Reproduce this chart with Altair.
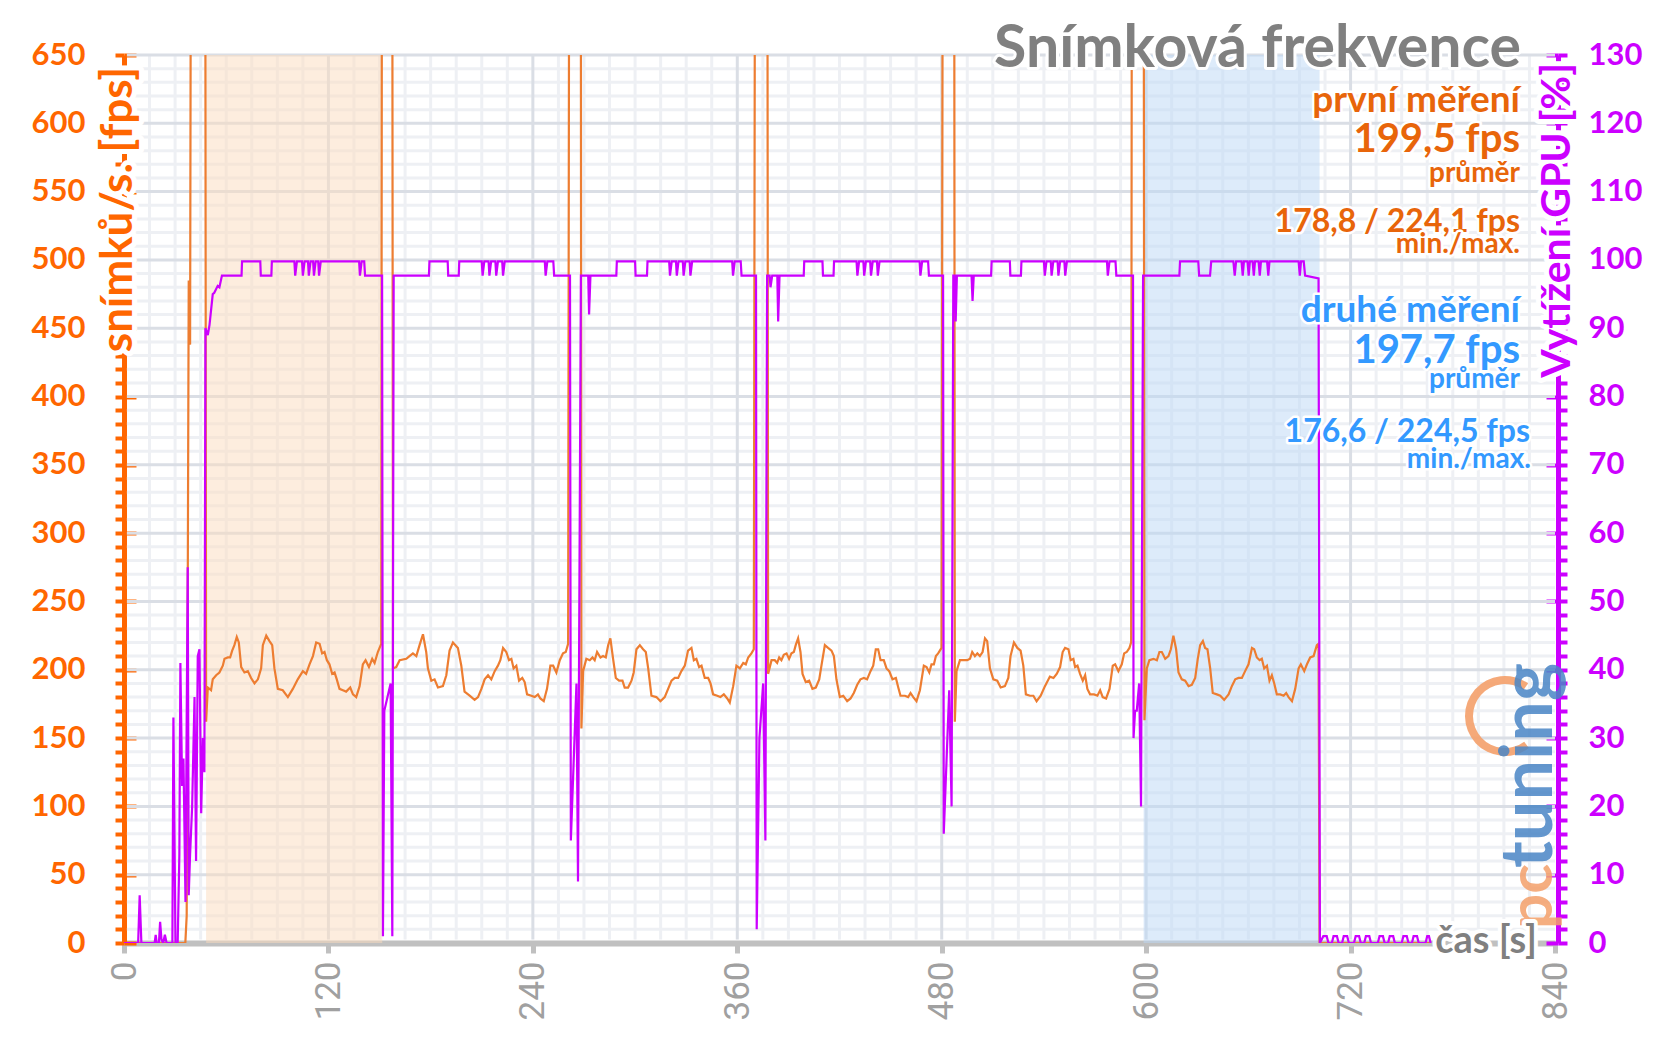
import altair as alt
import pandas as pd

# ---------------- data ----------------
fps_time = [0, 36.0, 36.8, 38.0, 38.8, 39.6, 47.5,
    48.2, 49.2, 51.1, 52.1, 54.1, 56.0, 58.0, 59.0, 60.9, 62.3, 63.5, 64.8, 66.2, 67.4, 68.8, 70.7, 72.7, 74.6,
    76.6, 78.6, 80.5, 81.5, 83.5, 85.4, 87.0, 88.3, 90.3, 93.2, 96.2, 99.1, 102.0, 105.0, 106.9, 108.9, 110.9,
    112.8, 114.8, 116.3, 117.7, 119.1, 120.6, 122.2, 123.6, 124.9, 126.5, 128.5, 130.4, 132.8, 134.4, 136.3,
    138.3, 140.2, 141.8, 143.8, 145.7, 147.1, 149.0, 151.0, 151.6, 157.3,
    157.9, 159.8, 161.8, 165.7, 167.6, 169.6, 171.6, 173.5, 175.5, 177.4, 178.4, 180.4, 182.3, 184.3, 187.2,
    189.2, 191.1, 193.1, 196.0, 198.0, 199.9, 202.9, 205.8, 207.8, 209.8, 211.7, 213.7, 215.6, 217.6, 219.5,
    220.9, 222.5, 224.4, 226.0, 227.4, 228.7, 230.3, 231.9, 233.8, 235.2, 236.6, 239.1, 241.1, 243.0, 244.4,
    246.4, 248.3, 250.3, 251.9, 253.8, 255.8, 257.7, 259.3, 260.7, 261.6, 268.0,
    268.5, 269.5, 271.4, 273.4, 275.0, 276.3, 277.7, 279.7, 281.2, 282.8, 284.2, 285.5, 287.1, 288.7, 290.6,
    292.6, 293.9, 295.9, 297.9, 299.2, 300.8, 302.8, 304.7, 306.3, 307.7, 309.6, 312.5, 314.9, 317.4, 319.4,
    321.4, 323.3, 325.3, 327.2, 329.2, 331.1, 333.1, 334.5, 336.0, 337.6, 339.0, 340.9, 342.9, 344.3, 345.8,
    348.2, 350.1, 352.1, 354.1, 355.6, 357.6, 359.5, 361.5, 363.5, 365.0, 366.4, 368.3, 369.7, 370.7, 377.5,
    378.1, 380.1, 382.0, 383.4, 384.6, 385.9, 387.3, 388.9, 390.4, 391.8, 393.2, 394.3, 395.7, 397.1, 398.3,
    400.2, 402.2, 404.1, 406.1, 408.1, 409.4, 411.4, 413.3, 415.3, 416.7, 418.2, 420.2, 422.2, 424.5, 426.5,
    428.4, 430.4, 432.3, 434.3, 436.2, 438.2, 439.8, 441.3, 442.7, 444.1, 446.0, 447.6, 449.2, 451.1, 453.1,
    454.5, 455.8, 458.4, 460.3, 461.7, 463.3, 465.2, 467.2, 469.5, 471.1, 472.7, 474.0, 475.4, 476.6, 477.9,
    479.9, 480.9, 487.2,
    487.7, 488.7, 490.7, 493.0, 495.0, 496.6, 497.9, 499.5, 500.9, 502.4, 504.0, 505.4, 506.7, 508.3, 510.3,
    512.6, 514.6, 517.1, 519.1, 520.4, 522.4, 524.4, 526.3, 527.9, 529.4, 531.8, 533.8, 535.7, 538.1, 540.6,
    543.5, 545.6, 547.5, 549.5, 551.0, 552.4, 554.4, 555.7, 557.3, 558.3, 559.7, 561.2, 562.8, 564.2, 565.5,
    567.1, 569.4, 571.4, 573.0, 574.5, 576.5, 578.5, 580.4, 581.8, 583.7, 585.7, 587.1, 588.6, 590.2, 591.2,
    591.8, 598.4,
    599.0, 600.4, 601.9, 604.3, 606.3, 607.8, 609.2, 611.2, 613.1, 614.5, 616.0, 617.6, 619.0, 620.9, 622.9,
    624.9, 626.8, 628.8, 630.3, 631.7, 633.3, 634.6, 636.0, 637.6, 639.1, 641.5, 643.5, 645.8, 648.4, 650.3,
    652.3, 654.2, 656.2, 658.1, 660.1, 662.1, 663.4, 665.0, 666.6, 667.9, 669.3, 670.9, 672.4, 673.8, 675.2,
    676.7, 678.7, 680.7, 682.2, 683.6, 685.6, 687.5, 689.5, 690.8, 692.8, 694.4, 696.3, 698.3, 700.2, 701.2,
    701.8, 767.0]

fps_value = [0, 0, 20, 485, 438, 1000, 1000,
    162, 187, 185, 193, 196, 198, 203, 208, 209, 209, 214, 218, 224, 220, 202, 198, 199, 194,
    190, 193, 201, 218, 225, 221, 218, 201, 186, 185, 180, 186, 193, 199, 197, 204, 210,
    220, 219, 212, 213, 207, 204, 197, 198, 193, 186, 185, 184, 187, 182, 180,
    188, 204, 207, 202, 208, 205, 213, 219, 1000, 1000,
    201, 202, 207, 208, 210, 212, 210, 218, 226, 213, 201, 192, 193, 187, 188,
    196, 214, 220, 216, 203, 184, 181, 178, 180, 186, 193, 196, 193, 199, 203,
    207, 216, 213, 207, 208, 201, 203, 192, 194, 191, 182, 181, 180, 182, 179,
    177, 186, 203, 203, 198, 207, 212, 213, 219, 1000, 1000,
    157, 199, 208, 207, 209, 207, 213, 209, 210, 209, 218, 223, 208, 194, 192,
    192, 187, 187, 192, 198, 215, 218, 215, 213, 201, 181, 180, 177, 180, 186,
    192, 194, 194, 199, 203, 214, 216, 207, 208, 202, 203, 194, 194, 190, 182,
    181, 180, 182, 179, 176, 188, 203, 201, 205, 204, 209, 212, 215, 1000, 1000,
    197, 207, 207, 205, 209, 207, 211, 212, 208, 212, 213, 218, 223, 213, 197,
    191, 192, 186, 187, 193, 203, 218, 216, 214, 210, 193, 180, 181, 177, 179,
    183, 189, 193, 194, 193, 199, 203, 215, 215, 207, 207, 201, 199, 193, 194,
    187, 181, 181, 180, 183, 180, 177, 185, 203, 202, 198, 204, 204, 210, 212,
    216, 1000, 1000,
    162, 199, 207, 207, 207, 208, 213, 210, 212, 210, 213, 223, 221, 201, 193,
    192, 187, 188, 194, 210, 220, 216, 214, 203, 182, 181, 181, 177, 181, 188,
    195, 194, 197, 202, 213, 216, 215, 207, 208, 202, 203, 197, 192, 196, 186,
    182, 182, 181, 185, 180, 179, 186, 203, 204, 199, 204, 212, 213, 216, 220,
    1000, 1000,
    163, 201, 207, 208, 207, 213, 213, 208, 210, 215, 225, 215, 198, 193, 192,
    188, 189, 194, 208, 218, 221, 216, 215, 201, 183, 182, 181, 178, 182, 188,
    193, 194, 194, 199, 204, 216, 215, 209, 207, 208, 201, 203, 192, 196, 190,
    182, 182, 181, 183, 180, 177, 186, 201, 204, 199, 204, 209, 210, 218, 219,
    0, 0]

gpu_time = [0, 8.3, 9.2, 10.2, 18.0, 18.6, 19.2, 20.5, 21.2, 22.0, 23.0, 24.0, 25.0, 28.4, 29.0, 30.2,
    31.5, 32.5, 33.1, 34.1, 34.9, 36.1, 37.4, 38.0, 38.8, 40.0, 41.4, 42.3, 43.3, 44.3, 45.3, 46.3, 47.2,
    47.8, 49.2, 50.2, 52.1, 53.0, 55.0, 56.0, 57.5,
    69.0, 69.3, 80.0, 80.3, 86.5, 86.8, 100.0, 100.5, 101.5, 104.5, 105.0, 106.0, 108.0, 108.5, 109.5,
    111.0, 111.5, 112.5, 114.0, 114.5, 115.5, 138.0, 138.5, 139.5, 141.0, 141.5,
    151.5, 152.0, 152.8, 156.5, 157.5, 158.3,
    179.0, 179.3, 190.0, 190.3, 196.5, 196.8, 210.0, 210.5, 211.5, 214.0, 214.5, 215.5, 218.0, 218.5,
    219.5, 222.0, 222.5, 223.5, 247.0, 247.5, 248.5, 252.0, 252.5,
    261.8, 262.3, 265.6, 266.5, 268.2, 272.5, 273.0, 273.8,
    289.0, 289.3, 300.0, 300.3, 307.0, 307.3, 320.0, 320.5, 321.5, 324.0, 324.5, 325.5, 328.0, 328.5,
    329.5, 332.0, 332.5, 333.5, 357.0, 357.5, 358.5, 362.0, 362.5,
    371.0, 371.4, 373.0, 375.2, 376.5, 377.5, 379.0, 379.5, 380.5, 383.5, 384.0, 384.8,
    399.0, 399.3, 410.0, 410.3, 416.5, 416.8, 430.0, 430.5, 431.5, 434.0, 434.5, 435.5, 438.0, 438.5,
    439.5, 442.0, 442.5, 443.5, 467.0, 467.5, 468.5, 472.0, 472.5,
    480.8, 481.2, 484.4, 485.8, 486.8, 487.6, 488.2, 488.9, 497.5, 498.1, 498.8,
    509.0, 509.3, 520.0, 520.3, 526.5, 526.8, 540.0, 540.5, 541.5, 544.0, 544.5, 545.5, 548.0, 548.5,
    549.5, 552.0, 552.5, 553.5, 577.0, 577.5, 578.5, 582.0, 582.5,
    592.3, 592.6, 593.5, 594.5, 595.9, 597.0, 598.2,
    619.5, 619.9, 630.6, 631.1, 637.5, 638.2, 651.2, 652.0, 652.8, 656.0, 656.7, 657.4, 659.5, 660.2,
    660.9, 662.5, 663.2, 663.9, 666.0, 666.7, 667.4, 671.0, 671.7, 672.4, 689.5, 690.2, 690.9, 692.5,
    693.3,
    701.2, 702.0, 704, 706, 707, 709, 710, 712, 713, 715, 716, 718, 719, 722, 723, 725, 726, 728, 729,
    731, 732, 736, 737, 739, 740, 742, 743, 745, 746, 750, 751, 753, 754, 756, 757, 759, 760, 764, 765,
    766, 767]

gpu_value = [0, 0, 7, 0, 0, 1.2, 0, 0, 3.1, 0.5, 0, 1.2, 0, 0, 33, 0,
    0, 13, 41, 23, 27, 6, 55, 7, 13, 20, 36, 12, 42, 43, 19, 30, 25,
    90, 89, 90.5, 95, 95.2, 96.2, 96, 97.7,
    97.7, 99.8, 99.8, 97.7, 97.7, 99.8, 99.8, 97.7, 99.8, 99.8, 97.7, 99.8, 99.8, 97.7, 99.8,
    99.8, 97.7, 99.8, 99.8, 97.7, 99.8, 99.8, 97.7, 99.8, 99.8, 97.7,
    97.7, 1, 34, 38, 1, 97.7,
    97.7, 99.8, 99.8, 97.7, 97.7, 99.8, 99.8, 97.7, 99.8, 99.8, 97.7, 99.8, 99.8, 97.7,
    99.8, 99.8, 97.7, 99.8, 99.8, 97.7, 99.8, 99.8, 97.7,
    97.7, 15, 38, 9, 97.7, 97.7, 92, 97.7,
    97.7, 99.8, 99.8, 97.7, 97.7, 99.8, 99.8, 97.7, 99.8, 99.8, 97.7, 99.8, 99.8, 97.7,
    99.8, 99.8, 97.7, 99.8, 99.8, 97.7, 99.8, 99.8, 97.7,
    97.7, 2, 30, 38, 15, 97.7, 97.7, 96, 97.7, 97.7, 91, 97.7,
    97.7, 99.8, 99.8, 97.7, 97.7, 99.8, 99.8, 97.7, 99.8, 99.8, 97.7, 99.8, 99.8, 97.7,
    99.8, 99.8, 97.7, 99.8, 99.8, 97.7, 99.8, 99.8, 97.7,
    97.7, 16, 37, 20, 97.7, 97.7, 91, 97.7, 97.7, 94, 97.7,
    97.7, 99.8, 99.8, 97.7, 97.7, 99.8, 99.8, 97.7, 99.8, 99.8, 97.7, 99.8, 99.8, 97.7,
    99.8, 99.8, 97.7, 99.8, 99.8, 97.7, 99.8, 99.8, 97.7,
    97.7, 30, 34, 34, 38, 20, 97.7,
    97.7, 99.8, 99.8, 97.7, 97.7, 99.8, 99.8, 97.7, 99.8, 99.8, 97.7, 99.8, 99.8, 97.7,
    99.8, 99.8, 97.7, 99.8, 99.8, 97.7, 99.8, 99.8, 97.7, 99.8, 99.8, 97.7, 99.8, 99.8,
    97.7,
    97.3, 0, 1, 1, 0, 0, 1, 1, 0, 0, 1, 1, 0, 0, 1, 1, 0, 0, 1,
    1, 0, 0, 1, 1, 0, 0, 1, 1, 0, 0, 1, 1, 0, 0, 1, 1, 0, 0, 1,
    1, 0]

band_start = [48.2, 598.5]
band_end = [151.6, 701.8]
band_name = ["první měření", "druhé měření"]

x_major = list(range(0, 841, 120))
x_minor = [v for v in range(0, 841, 15) if v % 120]
y_major = list(range(0, 651, 50))
y_minor = [v for v in range(0, 651, 10) if v % 50]
gpu_major = list(range(0, 131, 10))
gpu_minor = [v for v in range(0, 131, 2) if v % 10]

fps_df = pd.DataFrame({"t": fps_time, "fps": fps_value})
gpu_df = pd.DataFrame({"t": gpu_time, "gpu": gpu_value})
band_df = pd.DataFrame({"start": band_start, "end": band_end, "name": band_name})

# ---------------- styles ----------------
ORANGE_AX = "#FF6600"
ORANGE_TXT = "#E8650A"
ORANGE_LINE = "#ED7D31"
MAGENTA = "#CC00FF"
BLUE = "#3399FF"
GRAY = "#808080"
MAJOR = "#DADEE5"
MINOR = "#EEF0F4"
FONT = "Lato"

xs = alt.Scale(domain=[0, 840], nice=False, zero=False)
fs = alt.Scale(domain=[0, 650], nice=False)
gs = alt.Scale(domain=[0, 130], nice=False)


# grid lines drawn as rules through the scales (minor first, major on top),
# stopping short of the axis lines so these stay intact
def vgrid(values, color):
    return alt.Chart(pd.DataFrame({"v": values})).mark_rule(color=color, strokeWidth=3).encode(
        x=alt.X("v:Q", scale=xs, axis=None),
        y=alt.YDatum(650, type="quantitative", scale=fs, axis=None),
        y2=alt.Y2Datum(2.6))


def hgrid(values, color):
    return alt.Chart(pd.DataFrame({"v": values})).mark_rule(color=color, strokeWidth=3).encode(
        y=alt.Y("v:Q", scale=fs, axis=None),
        x=alt.XDatum(1.7, type="quantitative", scale=xs, axis=None),
        x2=alt.X2Datum(840))


grid_layers = [
    vgrid(x_minor, MINOR),
    hgrid(y_minor, MINOR),
    hgrid([v for v in y_major if v > 0], MAJOR),
    vgrid([v for v in x_major if 0 < v < 840], MAJOR),
]

bands = alt.Chart(band_df).mark_rect(opacity=0.5).encode(
    x=alt.X("start:Q", scale=xs, axis=None),
    x2="end:Q",
    y=alt.YDatum(0, type="quantitative", scale=fs,
                 axis=alt.Axis(orient="left", values=y_minor, grid=False,
                               labels=False, domain=False, ticks=True, tickSize=9, tickWidth=4,
                               tickColor=ORANGE_AX, title=None)),
    y2=alt.Y2Datum(650),
    color=alt.Color("name:N", scale=alt.Scale(domain=band_name, range=["#FBDBBD", "#BBD7F5"]), legend=None),
)

fps_line = alt.Chart(fps_df).mark_line(color=ORANGE_LINE, strokeWidth=2.2, clip=True).encode(
    x=alt.X("t:Q", scale=xs, axis=alt.Axis(
        orient="bottom", values=x_major, grid=False,
        domainColor="#C0C0C0", domainWidth=6, tickColor="#C0C0C0", tickSize=10, tickWidth=5,
        labelAngle=270, labelAlign="right", labelBaseline="middle", labelPadding=8,
        labelColor="#A0A0A0", labelFont="Liberation Sans Narrow, Roboto", labelFontSize=35,
        labelFlush=False, labelOverlap=False, title=None)),
    y=alt.Y("fps:Q", scale=fs, axis=alt.Axis(
        orient="left", values=y_major, grid=False,
        domainColor=ORANGE_AX, domainWidth=5, tickColor=ORANGE_AX, tickSize=9, tickWidth=4,
        labelColor=ORANGE_AX, labelFont=FONT, labelFontSize=31, labelFontWeight="bold",
        labelPadding=30, labelFlush=False, labelOverlap=False, title=None)),
)

fps_inner = alt.Chart(fps_df).mark_line(opacity=0).encode(
    x=alt.X("t:Q", scale=xs, axis=None),
    y=alt.Y("fps:Q", scale=fs, axis=alt.Axis(orient="left", offset=-12, values=y_major, grid=False,
                                            domain=False, labels=False, ticks=True, tickSize=12,
                                            tickWidth=4, tickColor=ORANGE_AX, title=None)),
)

gpu_minor_ax = alt.Chart(gpu_df).mark_line(opacity=0).encode(
    x=alt.X("t:Q", scale=xs, axis=None),
    y=alt.Y("gpu:Q", scale=gs, axis=alt.Axis(orient="right", offset=3, values=gpu_minor, grid=False,
                                            domain=False, labels=False, ticks=True, tickSize=9,
                                            tickWidth=4, tickColor=MAGENTA, title=None)),
)

gpu_inner = alt.Chart(gpu_df).mark_line(opacity=0).encode(
    x=alt.X("t:Q", scale=xs, axis=None),
    y=alt.Y("gpu:Q", scale=gs, axis=alt.Axis(orient="right", offset=-9, values=gpu_major, grid=False,
                                            domain=False, labels=False, ticks=True, tickSize=12,
                                            tickWidth=4, tickColor=MAGENTA, title=None)),
)

gpu_line = alt.Chart(gpu_df).mark_line(color=MAGENTA, strokeWidth=2.2, clip=True).encode(
    x=alt.X("t:Q", scale=xs, axis=None),
    y=alt.Y("gpu:Q", scale=gs, axis=alt.Axis(
        orient="right", offset=3, values=gpu_major, grid=False,
        domainColor=MAGENTA, domainWidth=5, tickColor=MAGENTA, tickSize=9, tickWidth=4,
        labelColor=MAGENTA, labelFont=FONT, labelFontSize=31, labelFontWeight="bold",
        labelPadding=21, labelFlush=False, labelOverlap=False, title=None)),
)

dummy = pd.DataFrame({"k": [0]})


def label(txt, x, y, size, color, angle=0, align="right", halo=5, opacity=1.0, weight="bold"):
    base = dict(align=align, baseline="alphabetic", font=FONT, fontWeight=weight,
                fontSize=size, angle=angle)
    enc = dict(x=alt.value(x), y=alt.value(y), text=alt.value(txt))
    layers = []
    if halo:
        layers.append(alt.Chart(dummy).mark_text(color="white", stroke="white", strokeWidth=halo,
                                                 strokeJoin="round", **base).encode(**enc))
    layers.append(alt.Chart(dummy).mark_text(color=color, opacity=opacity, **base).encode(**enc))
    return layers


texts = []
texts += label("snímků/s. [fps]", 8, 12, 44, ORANGE_AX, angle=270, halo=10)
texts += label("Vytížení GPU [%]", 1446, 8, 41, MAGENTA, angle=270, halo=10)
texts += label("čas [s]", 1413, 898, 38, GRAY, halo=8)
texts += label("Snímková frekvence", 1397, 12, 59, GRAY, halo=6)
texts += label("první měření", 1396, 57, 37, ORANGE_TXT)
texts += label("199,5 fps", 1396, 97, 40, ORANGE_TXT)
texts += label("průměr", 1396, 127, 28, ORANGE_TXT)
texts += label("178,8 / 224,1 fps", 1396, 177, 32, ORANGE_TXT)
texts += label("min./max.", 1396, 198, 28, ORANGE_TXT)
texts += label("druhé měření", 1396, 267, 37, BLUE)
texts += label("197,7 fps", 1396, 308, 40, BLUE)
texts += label("průměr", 1396, 333, 28, BLUE)
texts += label("176,6 / 224,5 fps", 1406, 387, 32, BLUE)
texts += label("min./max.", 1407, 413, 28, BLUE)

# watermark logo (pc tuning)
logo_ring = alt.Chart(dummy).mark_arc(radius=40, radius2=32, theta=2.5, theta2=6.9,
                                      color="#F4A06A", opacity=0.9).encode(
    x=alt.value(1381), y=alt.value(661))
logo = [logo_ring]
logo += label("tuning", 1428, 813, 72, "#4A86C6", angle=270, align="left", halo=0, opacity=0.85)
logo += label("pc", 1428, 874, 62, "#F4A06A", angle=270, align="left", halo=0, opacity=0.85)

chart = alt.layer(*grid_layers, bands,
                  fps_inner, gpu_minor_ax, gpu_inner, fps_line, gpu_line, *logo, *texts).resolve_scale(
    y="independent"
).resolve_axis(
    y="independent", x="independent"
).properties(
    width=1431, height=888,
    padding={"left": 124, "top": 55, "right": 101, "bottom": 101},
    autosize=alt.AutoSizeParams(type="none"),
    background="white",
).configure_view(stroke=None)

chart.save("out.html", embed_options={"renderer": "svg", "actions": False})
